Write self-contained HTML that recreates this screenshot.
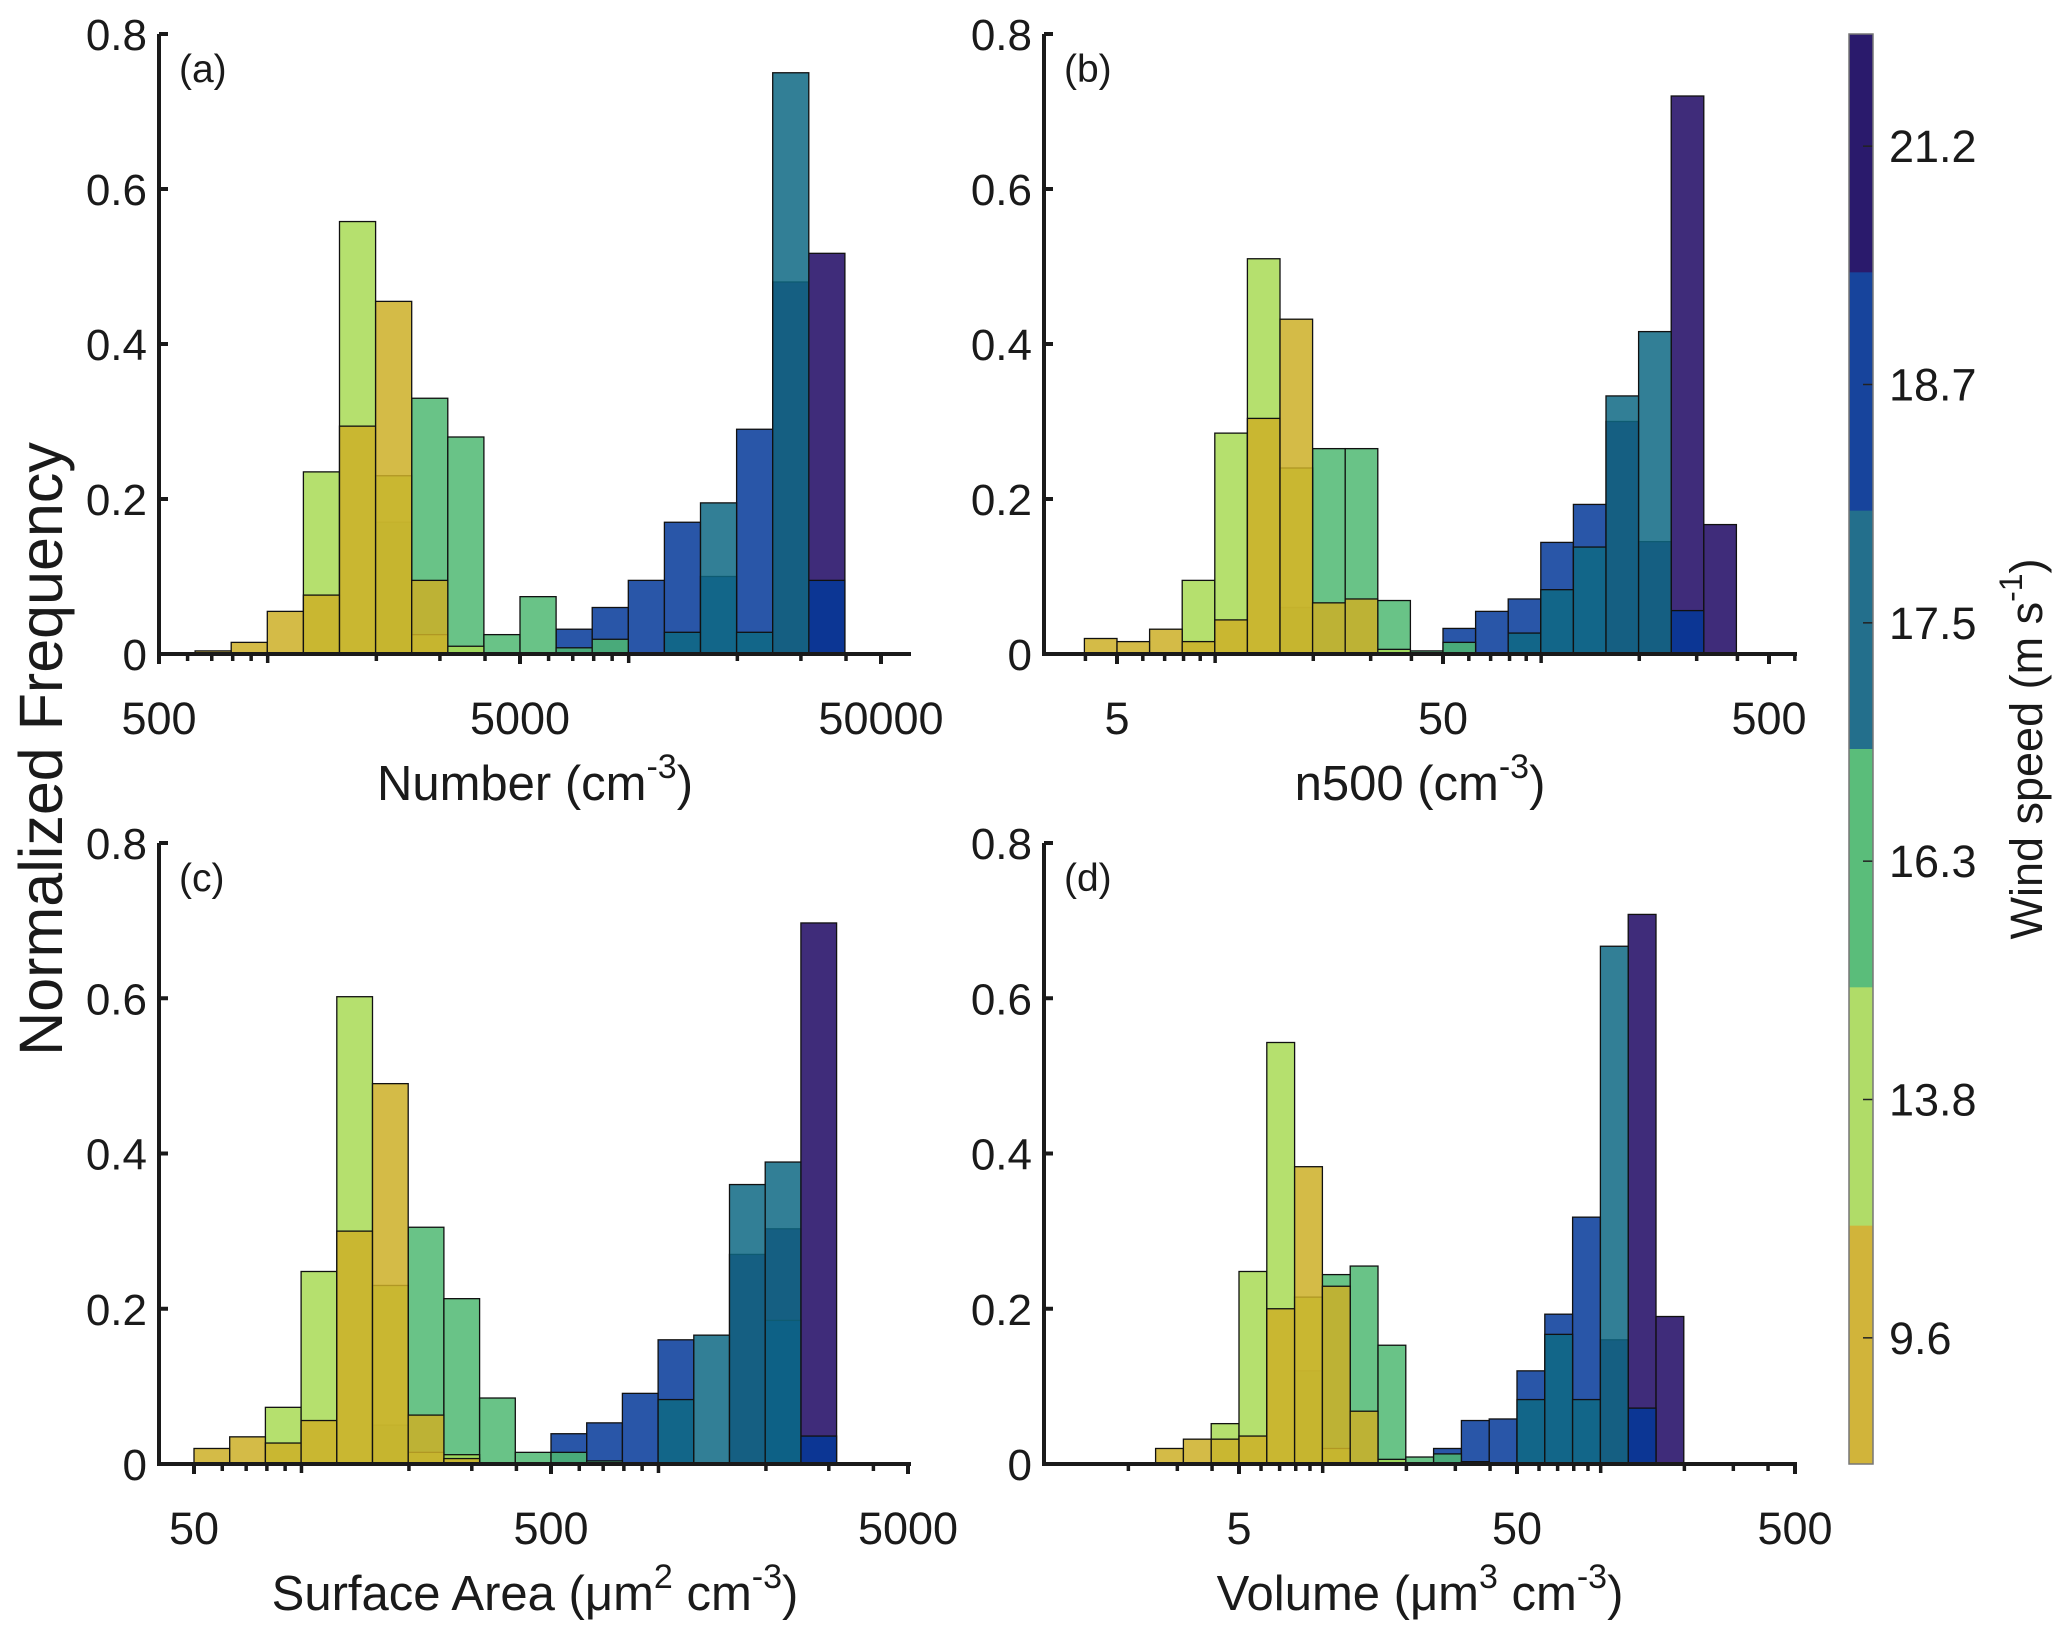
<!DOCTYPE html>
<html><head><meta charset="utf-8"><style>
html,body{margin:0;padding:0;background:#fff}
svg{display:block}
text{font-family:"Liberation Sans",sans-serif;fill:#1a1a1a}
</style></head><body>
<svg id="fig" xmlns="http://www.w3.org/2000/svg" width="2067" height="1633" viewBox="0 0 2067 1633"></svg>
<script>
// series order (draw order): purple, blue, teal, green, lightgreen, gold
const seriesNames = ['wind-21.2','wind-18.7','wind-17.5','wind-16.3','wind-13.8','wind-9.6'];
const seriesColors = ['#1d0763','#043899','#0e6884','#4fb972','#a8db55','#cdaf27'];
// Panel a: bin k spans 500*10^(k/10) .. 500*10^((k+1)/10)
const aPurple = {17:0.48,18:0.517};
const aBlue   = {11:0.032,12:0.06,13:0.095,14:0.17,15:0.10,16:0.29,18:0.095};
const aTeal   = {14:0.028,15:0.195,16:0.028,17:0.75};
const aGreen  = {6:0.17,7:0.33,8:0.28,9:0.025,10:0.074,11:0.008,12:0.019};
const aLight  = {4:0.235,5:0.558,6:0.23,7:0.025,8:0.01};
const aGold   = {1:0.004,2:0.015,3:0.055,4:0.076,5:0.294,6:0.455,7:0.095};
// Panel b: bin k spans 5*10^((k-1)/10) ..
const bPurple = {16:0.30,17:0.145,18:0.72,19:0.167};
const bBlue   = {11:0.033,12:0.055,13:0.071,14:0.144,15:0.193,18:0.056};
const bTeal   = {13:0.027,14:0.083,15:0.138,16:0.333,17:0.416};
const bGreen  = {6:0.06,7:0.265,8:0.265,9:0.069,10:0.004,11:0.015};
const bLight  = {3:0.095,4:0.285,5:0.51,6:0.24,9:0.006};
const bGold   = {0:0.02,1:0.016,2:0.032,3:0.016,4:0.044,5:0.304,6:0.432,7:0.066,8:0.071};
// Panel c: bin k spans 50*10^(k/10) ..
const cPurple = {15:0.27,16:0.303,17:0.697};
const cBlue   = {10:0.039,11:0.053,12:0.091,13:0.16,16:0.185,17:0.036};
const cTeal   = {13:0.083,14:0.166,15:0.36,16:0.389};
const cGreen  = {5:0.05,6:0.305,7:0.213,8:0.085,9:0.015,10:0.015,11:0.004};
const cLight  = {2:0.073,3:0.248,4:0.602,5:0.23,6:0.015,7:0.012};
const cGold   = {0:0.02,1:0.035,2:0.027,3:0.056,4:0.30,5:0.49,6:0.063,7:0.007};
// Panel d: bin k spans 5*10^((k-3)/10) ..
const dPurple = {16:0.16,17:0.708,18:0.19};
const dBlue   = {10:0.02,11:0.056,12:0.058,13:0.12,14:0.193,15:0.318,17:0.072};
const dTeal   = {13:0.083,14:0.167,15:0.083,16:0.667};
const dGreen  = {5:0.12,6:0.244,7:0.255,8:0.153,9:0.009,10:0.013,11:0.003};
const dLight  = {2:0.052,3:0.248,4:0.543,5:0.215,6:0.02,8:0.006};
const dGold   = {0:0.02,1:0.032,2:0.032,3:0.036,4:0.2,5:0.383,6:0.229,7:0.068};
const yTicks = [0,0.2,0.4,0.6,0.8];
const yTickLabels = ['0','0.2','0.4','0.6','0.8'];
const cbLabels = ['21.2','18.7','17.5','16.3','13.8','9.6'];
const cbColors = ['#2a1a6c','#17449c','#236f8c','#5abd7a','#b0dc68','#d1b43a'];

const NS='http://www.w3.org/2000/svg';
const svg=document.getElementById('fig');
function el(tag,attrs,parent){const e=document.createElementNS(NS,tag);for(const k in attrs)e.setAttribute(k,attrs[k]);(parent||svg).appendChild(e);return e;}

const panels=[
 {id:'a',series:[aPurple,aBlue,aTeal,aGreen,aLight,aGold],binBase:500,binOff:0,refV:500,refX:159,dec:361,left:159,right:911,y0:654,top:34,
  ticks:[500,5000,50000],tickLabels:['500','5000','50000'],xmin:500,xmax:60000,label:['Number (cm','-3',')'],lx:535,ly:782,tly:718},
 {id:'b',series:[bPurple,bBlue,bTeal,bGreen,bLight,bGold],binBase:5,binOff:-1,refV:5,refX:1117,dec:326,left:1044,right:1797,y0:654,top:34,
  ticks:[5,50,500],tickLabels:['5','50','500'],xmin:3,xmax:600,label:['n500 (cm','-3',')'],lx:1420,ly:782,tly:718},
 {id:'c',series:[cPurple,cBlue,cTeal,cGreen,cLight,cGold],binBase:50,binOff:0,refV:50,refX:194,dec:357,left:159,right:911,y0:1464,top:843,
  ticks:[50,500,5000],tickLabels:['50','500','5000'],xmin:40,xmax:5000,label:['Surface Area (\u03bcm','2',' cm','-3',')'],lx:535,ly:1592,tly:1528},
 {id:'d',series:[dPurple,dBlue,dTeal,dGreen,dLight,dGold],binBase:5,binOff:-3,refV:5,refX:1239,dec:278,left:1044,right:1797,y0:1464,top:843,
  ticks:[5,50,500],tickLabels:['5','50','500'],xmin:1,xmax:500,label:['Volume (\u03bcm','3',' cm','-3',')'],lx:1420,ly:1592,tly:1528}
];

panels.forEach(p=>{
  const g=el('g',{});
  
  
  const xs=v=>p.refX+p.dec*Math.log10(v/p.refV);
  const ys=v=>p.y0-(p.y0-p.top)*v/0.8;
  p.series.forEach((s,si)=>{
    Object.keys(s).forEach(k=>{
      const kk=+k+p.binOff;
      const lo=p.binBase*Math.pow(10,kk/10), hi=p.binBase*Math.pow(10,(kk+1)/10);
      const x1=xs(lo),x2=xs(hi),y=ys(s[k]);
      const r=el('rect',{x:x1,y:y,width:x2-x1,height:p.y0-y,fill:seriesColors[si],'fill-opacity':0.85,stroke:'#111','stroke-width':1.3},g);
      
      
    });
  });
  const ax=el('path',{d:`M${p.left} ${p.top} V${p.y0} H${p.right}`,fill:'none',stroke:'#1a1a1a','stroke-width':4},g);
  
  
  yTicks.forEach((t,i)=>{
    const y=ys(t);
    el('line',{x1:p.left,x2:p.left+9,y1:y,y2:y,stroke:'#1a1a1a','stroke-width':4},g);
    const tx=el('text',{x:p.left-12,y:y+16,'text-anchor':'end','font-size':44},g);
    tx.textContent=yTickLabels[i];
    
    
  });
  for(let e=-1;e<=6;e++){
    for(let m=1;m<=9;m++){
      const v=m*Math.pow(10,e);
      if(v<p.xmin*1.001||v>p.xmax) continue;
      const x=xs(v);
      if(x<p.left+2||x>p.right-2) continue;
      el('line',{x1:x,x2:x,y1:p.y0,y2:p.y0+(m===1?9:7),stroke:'#1a1a1a','stroke-width':3.5},g);
    }
  }
  p.ticks.forEach((t,i)=>{
    const x=xs(t);
    el('line',{x1:x,x2:x,y1:p.y0,y2:p.y0+10,stroke:'#1a1a1a','stroke-width':4},g);
    const tx=el('text',{x:x,y:p.tly+16,'text-anchor':'middle','font-size':45},g);
    tx.textContent=p.tickLabels[i];
    
    
  });
  const lab=el('text',{x:p.lx,y:p.ly+18,'text-anchor':'middle','font-size':49},g);
  
  
  p.label.forEach((s,i)=>{
    const ts=el('tspan',{},lab);
    if(i%2===1){ts.setAttribute('dy','-22');ts.setAttribute('font-size','34');}
    else if(i>0){ts.setAttribute('dy','22');}
    ts.textContent=s;
  });
  const pl=el('text',{x:p.left+20,y:p.top+48,'font-size':39},g);
  pl.textContent='('+p.id+')';
  
  
});

const yt=el('text',{x:0,y:0,'text-anchor':'middle','font-size':61,transform:'translate(62 749) rotate(-90)'});
yt.textContent='Normalized Frequency';



const cb=el('g',{});


const cbTop=34,cbBot=1464,cbX=1849,cbW=24,seg=(cbBot-cbTop)/6;
cbColors.forEach((c,i)=>{
  const r=el('rect',{x:cbX,y:cbTop+i*seg,width:cbW,height:seg+0.5,fill:c},cb);
  
  
  const ty=cbTop+(i+0.5)*seg-7;
  el('line',{x1:cbX+cbW-10,x2:cbX+cbW,y1:ty,y2:ty,stroke:'#222','stroke-width':1.5},cb);
  const t=el('text',{x:1889,y:ty+16,'font-size':45},cb);
  t.textContent=cbLabels[i];
  
  
});
el('rect',{x:cbX,y:cbTop,width:cbW,height:cbBot-cbTop,fill:'none',stroke:'#777','stroke-width':1.5},cb);
const ct=el('text',{x:0,y:0,'text-anchor':'middle','font-size':45,transform:'translate(2042 749) rotate(-90)'});


[['Wind speed (m s',0],['-1',1],[')',2]].forEach(([s,i])=>{
  const ts=el('tspan',{},ct);
  if(i===1){ts.setAttribute('dy','-20');ts.setAttribute('font-size','32');}
  if(i===2){ts.setAttribute('dy','20');}
  ts.textContent=s;
});
</script>
</body></html>
